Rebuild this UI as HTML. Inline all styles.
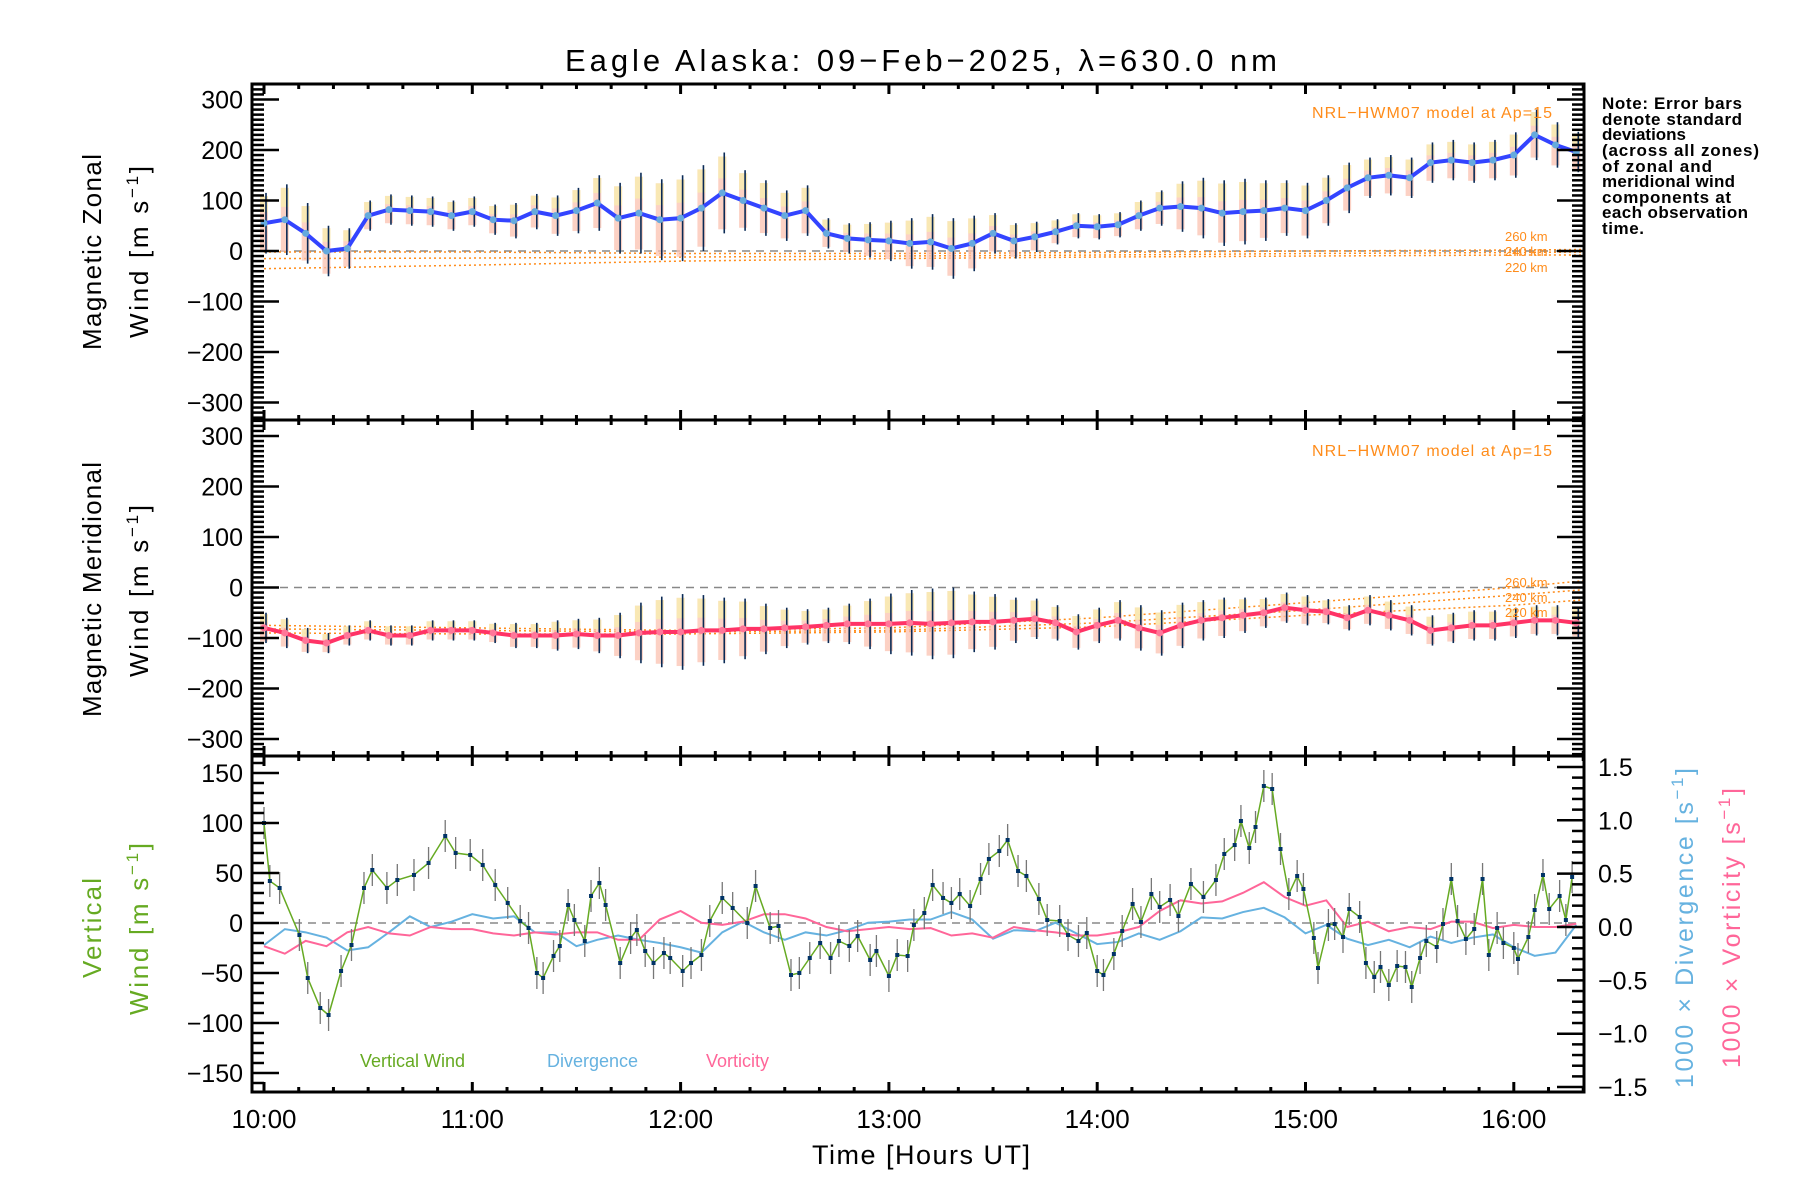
<!DOCTYPE html>
<html><head><meta charset="utf-8">
<style>
html,body{margin:0;padding:0;background:#fff;}
svg{display:block;font-family:"Liberation Sans",sans-serif;}
</style></head>
<body>
<svg id="chart" width="1800" height="1200" viewBox="0 0 1800 1200" xmlns="http://www.w3.org/2000/svg">
<defs>
<clipPath id="c1"><rect x="252" y="84" width="1332" height="336"/></clipPath>
<clipPath id="c2"><rect x="252" y="420" width="1332" height="336"/></clipPath>
<clipPath id="c3"><rect x="252" y="756" width="1332" height="336"/></clipPath>
</defs>
<text x="565" y="71" font-size="31" textLength="712" lengthAdjust="spacing">Eagle Alaska: 09−Feb−2025, λ=630.0 nm</text>
<g id="g1" clip-path="url(#c1)"></g>
<g id="g2" clip-path="url(#c2)"></g>
<g id="g3" clip-path="url(#c3)"></g>
<g id="axes"></g>
<g font-size="26">
<text transform="translate(101,350) rotate(-90)" textLength="196" lengthAdjust="spacing">Magnetic Zonal</text>
<text transform="translate(148,338) rotate(-90)" textLength="172" lengthAdjust="spacing">Wind [m s<tspan dy="-10" font-size="17">−1</tspan><tspan dy="10">]</tspan></text>
</g>
<g font-size="26">
<text transform="translate(101,717) rotate(-90)" textLength="255" lengthAdjust="spacing">Magnetic Meridional</text>
<text transform="translate(148,677) rotate(-90)" textLength="172" lengthAdjust="spacing">Wind [m s<tspan dy="-10" font-size="17">−1</tspan><tspan dy="10">]</tspan></text>
</g>
<g font-size="26" fill="#66aa22">
<text transform="translate(101,978) rotate(-90)" textLength="100" lengthAdjust="spacing">Vertical</text>
<text transform="translate(148,1015) rotate(-90)" textLength="172" lengthAdjust="spacing">Wind [m s<tspan dy="-10" font-size="17">−1</tspan><tspan dy="10">]</tspan></text>
</g>
<text transform="translate(1693,1088) rotate(-90)" font-size="25" fill="#66b2e0" textLength="320" lengthAdjust="spacing">1000 × Divergence [s<tspan dy="-10" font-size="17">−1</tspan><tspan dy="10">]</tspan></text>
<text transform="translate(1740,1068) rotate(-90)" font-size="25" fill="#ff6699" textLength="280" lengthAdjust="spacing">1000 × Vorticity [s<tspan dy="-10" font-size="17">−1</tspan><tspan dy="10">]</tspan></text>
<text x="812" y="1164" font-size="27" textLength="218" lengthAdjust="spacing">Time [Hours UT]</text>
<g font-size="17" font-weight="bold">
<text x="1602" y="109" textLength="140" lengthAdjust="spacing">Note: Error bars</text>
<text x="1602" y="125" textLength="140" lengthAdjust="spacing">denote standard</text>
<text x="1602" y="140" textLength="84" lengthAdjust="spacing">deviations</text>
<text x="1602" y="156" textLength="157" lengthAdjust="spacing">(across all zones)</text>
<text x="1602" y="172" textLength="110" lengthAdjust="spacing">of zonal and</text>
<text x="1602" y="187" textLength="133" lengthAdjust="spacing">meridional wind</text>
<text x="1602" y="203" textLength="129" lengthAdjust="spacing">components at</text>
<text x="1602" y="218" textLength="146" lengthAdjust="spacing">each observation</text>
<text x="1602" y="234" textLength="42" lengthAdjust="spacing">time.</text>
</g>
<g fill="#ff8c1a">
<text x="1312" y="118" font-size="16" textLength="240" lengthAdjust="spacing">NRL−HWM07 model at Ap=15</text>
<text x="1312" y="456" font-size="16" textLength="240" lengthAdjust="spacing">NRL−HWM07 model at Ap=15</text>
<text x="1505" y="241" font-size="13">260 km</text>
<text x="1505" y="256" font-size="13">240 km</text>
<text x="1505" y="272" font-size="13">220 km</text>
<text x="1505" y="587" font-size="13">260 km</text>
<text x="1505" y="602" font-size="13">240 km</text>
<text x="1505" y="617" font-size="13">220 km</text>
</g>
<text x="360" y="1067" font-size="18" fill="#66aa22">Vertical Wind</text>
<text x="547" y="1067" font-size="18" fill="#66b2e0">Divergence</text>
<text x="706" y="1067" font-size="18" fill="#ff6699">Vorticity</text>
</svg>
<script>
// hours since 10:00 UT, step 0.1 h
const gridTimes = [0,0.1,0.2,0.3,0.4,0.5,0.6,0.7,0.8,0.9,1.0,1.1,1.2,1.3,1.4,1.5,1.6,1.7,1.8,1.9,2.0,2.1,2.2,2.3,2.4,2.5,2.6,2.7,2.8,2.9,3.0,3.1,3.2,3.3,3.4,3.5,3.6,3.7,3.8,3.9,4.0,4.1,4.2,4.3,4.4,4.5,4.6,4.7,4.8,4.9,5.0,5.1,5.2,5.3,5.4,5.5,5.6,5.7,5.8,5.9,6.0,6.1,6.2,6.3];
const zonalWind = [55,62,35,0,5,70,82,80,78,70,78,62,60,78,70,80,95,65,75,62,65,85,115,100,85,70,80,35,25,22,20,15,18,5,15,35,20,28,38,50,48,52,70,85,88,85,75,78,80,85,80,100,125,145,150,145,175,180,175,180,190,230,210,196];
const zonalErr = [60,70,60,50,40,30,30,30,30,30,30,30,35,35,40,45,55,70,80,80,85,85,80,60,55,50,50,30,30,35,40,50,55,60,55,40,35,30,25,25,25,25,30,35,50,60,65,65,60,55,55,50,50,40,40,40,40,40,40,40,45,50,45,40];
const meridWind = [-80,-90,-105,-110,-95,-85,-95,-95,-85,-85,-85,-90,-95,-95,-95,-92,-95,-95,-90,-88,-88,-85,-85,-82,-82,-80,-78,-75,-72,-72,-72,-70,-72,-70,-68,-68,-65,-62,-70,-88,-75,-65,-80,-90,-75,-65,-60,-55,-50,-40,-45,-48,-60,-45,-55,-65,-85,-80,-75,-75,-70,-65,-65,-70];
const meridErr = [30,30,25,20,20,20,20,20,20,20,20,20,25,25,30,30,35,45,60,70,75,70,65,60,50,40,35,35,40,50,60,65,70,70,60,55,45,40,35,35,35,40,45,45,45,40,40,35,30,30,30,25,25,30,30,30,30,30,30,30,30,30,30,30];
const divergence = [-0.17,-0.02,-0.05,-0.10,-0.22,-0.19,-0.05,0.10,0,0.05,0.12,0.08,0.10,-0.05,-0.05,-0.18,-0.12,-0.08,-0.12,-0.15,-0.19,-0.24,-0.05,0.05,-0.05,-0.12,-0.05,-0.08,-0.03,0.04,0.05,0.07,0.07,0.14,0.07,-0.11,-0.03,-0.04,0.04,-0.06,-0.16,-0.14,-0.06,-0.12,-0.04,0.09,0.08,0.14,0.18,0.09,-0.06,0.02,-0.11,-0.17,-0.12,-0.19,-0.09,-0.15,-0.10,-0.07,-0.19,-0.27,-0.24,0.02];
const vorticity = [-0.18,-0.25,-0.13,-0.18,-0.05,0,-0.06,-0.08,0,-0.02,-0.02,-0.06,-0.08,-0.05,-0.07,-0.05,-0.05,-0.12,-0.12,0.07,0.15,0.04,0.02,0.05,0.12,0.12,0.08,0,-0.04,-0.02,0,-0.02,-0.01,-0.08,-0.06,-0.10,0,-0.03,-0.05,-0.08,-0.08,-0.05,0,0.15,0.25,0.22,0.24,0.32,0.42,0.28,0.20,0.25,0,0.05,-0.04,0,-0.02,0.05,0.05,-0.01,0.02,0,0,0.03];
const vertTimes = [0,0.028,0.075,0.17,0.21,0.27,0.31,0.37,0.42,0.48,0.52,0.59,0.64,0.72,0.79,0.87,0.92,0.99,1.05,1.11,1.17,1.23,1.27,1.31,1.34,1.39,1.42,1.46,1.49,1.54,1.57,1.61,1.64,1.71,1.76,1.79,1.83,1.87,1.92,1.95,2.01,2.05,2.10,2.14,2.20,2.25,2.32,2.36,2.43,2.47,2.53,2.57,2.62,2.67,2.72,2.76,2.81,2.85,2.91,2.94,3.00,3.04,
 3.09,3.12,3.17,3.21,3.26,3.30,3.34,3.39,3.44,3.48,3.53,3.57,3.62,3.66,3.72,3.76,3.82,3.86,3.91,3.95,4.00,4.03,4.08,4.12,4.17,4.21,4.26,4.30,4.35,4.39,4.45,4.51,4.57,4.61,4.66,4.69,4.73,4.76,4.80,4.84,4.88,4.92,4.96,4.99,5.04,5.06,5.11,5.14,5.18,5.21,5.26,5.29,5.33,5.36,5.40,5.44,5.48,5.51,5.55,5.58,5.63,5.66,5.70,5.73,5.77,5.81,5.85,5.88,5.92,5.95,6.00,6.02,6.07,6.10,6.14,6.17,6.22,6.25,6.28];
const vertWind = [100,42,35,-12,-55,-85,-92,-48,-22,35,53,35,43,48,60,87,70,68,58,38,20,2,-5,-50,-55,-33,-23,18,3,-18,27,40,18,-40,-15,-7,-28,-40,-30,-35,-48,-40,-32,2,25,15,0,37,-5,-3,-52,-50,-35,-20,-35,-18,-23,-13,-37,-28,-53,-32,
 -33,-2,10,38,25,20,29,17,44,64,72,83,52,47,24,3,2,-12,-18,-10,-48,-52,-31,-8,19,1,29,16,23,7,39,26,43,69,78,102,75,96,137,134,74,29,47,34,-15,-45,-2,-1,-14,14,6,-40,-54,-44,-62,-43,-44,-64,-35,-18,-24,-1,44,2,-16,-6,44,-32,-5,-20,-25,-36,-14,13,48,14,27,3,46];
const vertErr = 16;
const modelTimes = [0,1,2,3,4,5,6,6.35];
const zonalModel260 = [-2,-2,-5,-5,-3,0,2,3];
const zonalModel240 = [-15,-14,-12,-10,-8,-5,-3,-2];
const zonalModel220 = [-35,-28,-20,-15,-12,-10,-8,-8];
const meridModel260 = [-75,-80,-85,-80,-60,-30,0,14];
const meridModel240 = [-82,-85,-88,-85,-70,-45,-15,-4];
const meridModel220 = [-90,-92,-92,-88,-78,-55,-35,-24];
const hourLabels = ["10:00","11:00","12:00","13:00","14:00","15:00","16:00"];
const windTicks = [300,200,100,0,-100,-200,-300];
const vertTicks = [150,100,50,0,-50,-100,-150];
const rightTicks = [1.5,1.0,0.5,0.0,-0.5,-1.0,-1.5];

const NS="http://www.w3.org/2000/svg";
const L=252,R=1584;
const X=h=>264+h*208.3;
const Y1=v=>251-v*0.505;
const Y2=v=>587.5-v*0.505;
const Y3=v=>923-v;
const YR=v=>927-v*106.7;
function mk(tag,attrs,parent){const e=document.createElementNS(NS,tag);for(const k in attrs)e.setAttribute(k,attrs[k]);parent.appendChild(e);return e;}
const g1=document.getElementById('g1'),g2=document.getElementById('g2'),g3=document.getElementById('g3'),ax=document.getElementById('axes');

function zeroLine(g,y){const l=mk('line',{x1:L,x2:R,y1:y,y2:y,stroke:'#888','stroke-width':1.5,'stroke-dasharray':'8,6'},g);
}
function modelLine(g,vals,Y,name){const pts=modelTimes.map((t,i)=>X(t)+','+Y(vals[i])).join(' ');
const p=mk('polyline',{points:pts,fill:'none',stroke:'#ff8c1a','stroke-width':1.5,'stroke-dasharray':'2,3'},g);
}
function windPanel(g,vals,errs,Y,lineColor,dotColor,name){
  gridTimes.forEach((t,i)=>{const x=X(t);
    const b=mk('rect',{x:x-4,y:Y(vals[i]+errs[i]*0.9),width:8,height:Math.max(1,Y(vals[i]-errs[i]*0.9)-Y(vals[i]+errs[i]*0.9)),fill:'#fbc2b0',opacity:0.75},g);
    
    const b2=mk('rect',{x:x-4,y:Y(vals[i]+errs[i]*0.9),width:8,height:Math.max(1,(Y(vals[i]-errs[i]*0.9)-Y(vals[i]+errs[i]*0.9))*0.3),fill:'#f8eeb0',opacity:0.8},g);
    
    const e=mk('line',{x1:x+2,x2:x+2,y1:Y(vals[i]+errs[i]),y2:Y(vals[i]-errs[i]),stroke:'#0a2a55','stroke-width':1.6},g);
    
  });
  const pts=gridTimes.map((t,i)=>X(t)+','+Y(vals[i])).join(' ');
  const p=mk('polyline',{points:pts,fill:'none',stroke:lineColor,'stroke-width':4},g);
  
  gridTimes.forEach((t,i)=>{const c=mk('circle',{cx:X(t),cy:Y(vals[i]),r:3.5,fill:dotColor},g);
    });
}
zeroLine(g1,Y1(0));
modelLine(g1,zonalModel260,Y1,'zonal-model-260');
modelLine(g1,zonalModel240,Y1,'zonal-model-240');
modelLine(g1,zonalModel220,Y1,'zonal-model-220');
windPanel(g1,zonalWind,zonalErr,Y1,'#3344ff','#66aadd','zonal');
zeroLine(g2,Y2(0));
modelLine(g2,meridModel260,Y2,'meridional-model-260');
modelLine(g2,meridModel240,Y2,'meridional-model-240');
modelLine(g2,meridModel220,Y2,'meridional-model-220');
windPanel(g2,meridWind,meridErr,Y2,'#ff3366','#ff7799','meridional');
zeroLine(g3,Y3(0));
const dl=mk('polyline',{points:gridTimes.map((t,i)=>X(t)+','+YR(divergence[i])).join(' '),fill:'none',stroke:'#66b2e0','stroke-width':2},g3);

const vl=mk('polyline',{points:gridTimes.map((t,i)=>X(t)+','+YR(vorticity[i])).join(' '),fill:'none',stroke:'#ff6699','stroke-width':2},g3);

const nV=Math.min(vertTimes.length,vertWind.length);
for(let i=0;i<nV;i++){const x=X(vertTimes[i]);
  const e=mk('line',{x1:x,x2:x,y1:Y3(vertWind[i]+vertErr),y2:Y3(vertWind[i]-vertErr),stroke:'#777','stroke-width':1.3},g3);
  }
const wl=mk('polyline',{points:vertTimes.slice(0,nV).map((t,i)=>X(t)+','+Y3(vertWind[i])).join(' '),fill:'none',stroke:'#66aa22','stroke-width':1.5},g3);

for(let i=0;i<nV;i++){const r=mk('rect',{x:X(vertTimes[i])-2,y:Y3(vertWind[i])-2,width:4,height:4,fill:'#003366'},g3);
  }

function frame(top,bot,name){const r=mk('rect',{x:L,y:top,width:R-L,height:bot-top,fill:'none',stroke:'#000','stroke-width':3},ax);
}
function xTicks(top,bot){for(let m=0;m<=390;m+=10){const x=X(m/60);if(x>R)break;const len=(m%60===0)?10:5;
  mk('line',{x1:x,x2:x,y1:top,y2:top+len,stroke:'#000','stroke-width':3},ax);
  mk('line',{x1:x,x2:x,y1:bot,y2:bot-len,stroke:'#000','stroke-width':3},ax);}}
function yTicks(Y,lo,hi,minor,major,side,top,bot){for(let v=lo;v<=hi+1e-9;v+=minor){const y=Y(v);if(y<top-0.5||y>bot+0.5)continue;
  const isMaj=Math.abs(Math.round(v/major)*major-v)<1e-6;const len=isMaj?27:12;
  if(side==='l'||side==='b')mk('line',{x1:L,x2:L+len,y1:y,y2:y,stroke:'#000','stroke-width':2.5},ax);
  if(side==='r'||side==='b')mk('line',{x1:R,x2:R-len,y1:y,y2:y,stroke:'#000','stroke-width':2.5},ax);}}
function yLabels(ticks,Y,x,anchor,fmt,name){ticks.forEach(v=>{const t=mk('text',{x:x,y:Y(v)+9,'font-size':25,'text-anchor':anchor},ax);
  t.textContent=fmt(v).replace('-','−');});}
frame(84,420,'zonal-plot-frame');frame(420,756,'meridional-plot-frame');frame(756,1092,'vertical-plot-frame');
xTicks(84,420);xTicks(420,756);xTicks(756,1092);
yTicks(Y1,-330,330,10,100,'b',84,420);
yTicks(Y2,-330,330,10,100,'b',420,756);
yTicks(Y3,-160,160,10,50,'l',756,1092);
yTicks(YR,-1.6,1.6,0.1,0.5,'r',756,1092);
yLabels(windTicks,Y1,243,'end',v=>String(v),'zonal-y-tick-label');
yLabels(windTicks,Y2,243,'end',v=>String(v),'meridional-y-tick-label');
yLabels(vertTicks,Y3,243,'end',v=>String(v),'vertical-y-tick-label');
yLabels(rightTicks,YR,1598,'start',v=>v.toFixed(1),'right-y-tick-label');
hourLabels.forEach((s,i)=>{const t=mk('text',{x:X(i),y:1128,'font-size':26,'text-anchor':'middle'},ax);t.textContent=s;
  });
</script>
</body></html>
